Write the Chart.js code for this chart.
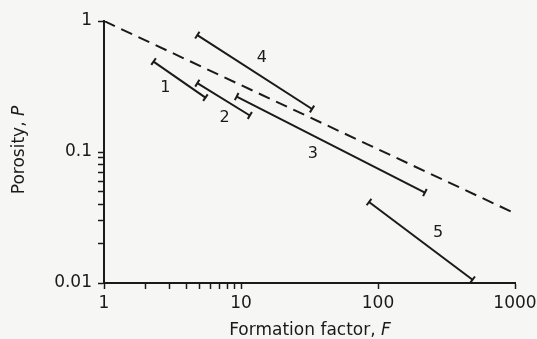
<!DOCTYPE html>
<html>
<head>
<meta charset="utf-8">
<script src="https://cdn.jsdelivr.net/npm/chart.js@4/dist/chart.umd.min.js"></script>
<style>
  html, body { margin: 0; padding: 0; background: #f6f6f4; }
  canvas { display: block; }
</style>
</head>
<body>
<canvas id="chart" width="537" height="339"></canvas>
<script>
// formation factor F vs porosity P
const seg1F = [2.3, 5.5];
const seg1P = [0.49, 0.26];
const seg2F = [4.8, 11.6];
const seg2P = [0.335, 0.19];
const seg3F = [9.3, 220];
const seg3P = [0.265, 0.049];
const seg4F = [4.8, 33];
const seg4P = [0.78, 0.213];
const seg5F = [86, 490];
const seg5P = [0.0415, 0.0106];
const trendF = [1, 1000];
const trendP = [1, 0.034];

const segNames = ["1", "2", "3", "4", "5"];
const labelF = [2.8, 7.6, 33.5, 14.2, 274];
const labelP = [0.31, 0.182, 0.097, 0.52, 0.024];

const xTicks = [1, 2, 3, 4, 5, 6, 7, 8, 9, 10, 100, 1000];
const xMajor = [1, 10, 100, 1000];
const yTicks = [0.01, 0.02, 0.03, 0.04, 0.05, 0.06, 0.07, 0.08, 0.09, 0.1, 1];
const yMajor = [0.01, 0.1, 1];

const ink = "#1a1a1a";
const font = "DejaVu Sans";

const pts = (fs, ps) => fs.map((f, i) => ({ x: f, y: ps[i] }));

// cap perpendicular to the segment, in pixel space
const capAngle = (context) => {
  const d = context.dataset.data;
  const xs = context.chart.scales.x;
  const ys = context.chart.scales.y;
  if (!xs || !ys) return 90;
  const dx = xs.getPixelForValue(d[1].x) - xs.getPixelForValue(d[0].x);
  const dy = ys.getPixelForValue(d[1].y) - ys.getPixelForValue(d[0].y);
  const a = (Math.atan2(dy, dx) * 180) / Math.PI + 90;
  return isNaN(a) ? 90 : a;
};

const segment = (fs, ps) => ({
  data: pts(fs, ps),
  borderColor: ink,
  borderWidth: 2,
  pointStyle: "line",
  pointRadius: 4,
  pointBorderWidth: 2,
  pointBorderColor: ink,
  pointRotation: capAngle,
  showLine: true,
});

const bgPlugin = {
  id: "bg",
  beforeDraw(chart) {
    const c = chart.ctx;
    c.save();
    c.fillStyle = "#f6f6f4";
    c.fillRect(0, 0, chart.width, chart.height);
    c.restore();
  },
};

const textPlugin = {
  id: "texts",
  afterDraw(chart) {
    const c = chart.ctx;
    const xs = chart.scales.x;
    const ys = chart.scales.y;
    c.save();
    c.fillStyle = ink;

    // segment numbers
    c.font = `16px "${font}"`;
    c.textAlign = "center";
    c.textBaseline = "middle";
    segNames.forEach((n, i) => {
      c.fillText(n, xs.getPixelForValue(labelF[i]), ys.getPixelForValue(labelP[i]));
    });

    // axis titles with italic symbol
    const normal = `17px "${font}"`;
    const italic = `italic 17px "${font}"`;
    c.textAlign = "left";
    c.textBaseline = "alphabetic";

    c.font = normal;
    const xa = "Formation factor, ";
    const wa = c.measureText(xa).width;
    c.font = italic;
    const wb = c.measureText("F").width;
    let x0 = 310 - (wa + wb) / 2;
    c.font = normal;
    c.fillText(xa, x0, 335);
    c.font = italic;
    c.fillText("F", x0 + wa, 335);

    c.translate(24, 150);
    c.rotate(-Math.PI / 2);
    c.font = normal;
    const ya = "Porosity, ";
    const wc = c.measureText(ya).width;
    c.font = italic;
    const wd = c.measureText("P").width;
    x0 = -(wc + wd) / 2;
    c.font = normal;
    c.fillText(ya, x0, 0);
    c.font = italic;
    c.fillText("P", x0 + wc, 0);
    c.restore();
  },
};

new Chart(document.getElementById("chart").getContext("2d"), {
  type: "scatter",
  data: {
    datasets: [
      {
        data: pts(trendF, trendP),
        borderColor: ink,
        borderWidth: 2,
        borderDash: [12, 7],
        pointRadius: 0,
        showLine: true,
      },
      segment(seg1F, seg1P),
      segment(seg2F, seg2P),
      segment(seg3F, seg3P),
      segment(seg4F, seg4P),
      segment(seg5F, seg5P),
    ],
  },
  options: {
    responsive: false,
    animation: false,
    layout: { padding: { top: 21, right: 22, left: 0, bottom: 0 } },
    plugins: {
      legend: { display: false },
      tooltip: { enabled: false },
    },
    scales: {
      x: {
        type: "logarithmic",
        min: 1,
        max: 1000,
        afterBuildTicks: (scale) => {
          scale.ticks = xTicks.map((v) => ({ value: v }));
        },
        afterFit: (scale) => {
          scale.height = 56;
          scale.paddingLeft = 0;
          scale.paddingRight = 0;
        },
        ticks: {
          autoSkip: false,
          maxRotation: 0,
          padding: 4,
          color: ink,
          font: { size: 17, family: font },
          callback: (v) => (xMajor.includes(v) ? String(v) : ""),
        },
        grid: {
          drawOnChartArea: false,
          drawTicks: true,
          tickLength: 6,
          tickColor: ink,
          tickWidth: 1.5,
        },
        border: { display: true, color: ink, width: 2 },
      },
      y: {
        type: "logarithmic",
        min: 0.01,
        max: 1,
        afterBuildTicks: (scale) => {
          scale.ticks = yTicks.map((v) => ({ value: v }));
        },
        afterFit: (scale) => {
          scale.width = 104;
          scale.paddingTop = 0;
          scale.paddingBottom = 0;
        },
        ticks: {
          autoSkip: false,
          padding: 6,
          color: ink,
          font: { size: 17, family: font },
          callback: (v) => (yMajor.includes(v) ? String(v) : ""),
        },
        grid: {
          drawOnChartArea: false,
          drawTicks: true,
          tickLength: 6,
          tickColor: ink,
          tickWidth: 1.5,
        },
        border: { display: true, color: ink, width: 2 },
      },
    },
  },
  plugins: [bgPlugin, textPlugin],
});
</script>
</body>
</html>
